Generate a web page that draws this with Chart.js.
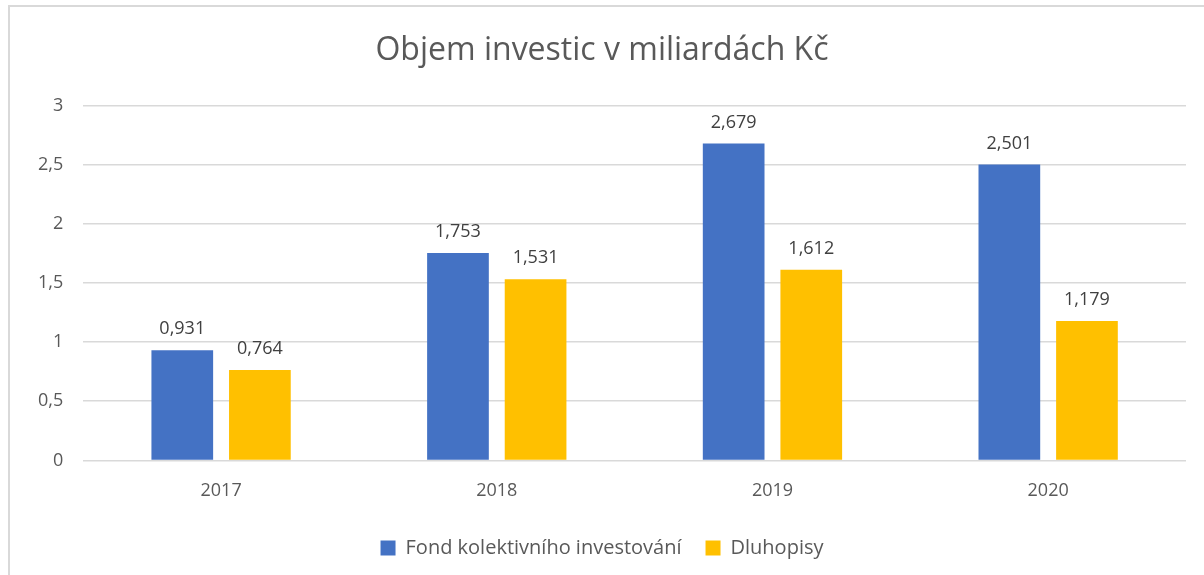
<!DOCTYPE html>
<html>
<head>
<meta charset="utf-8">
<script src="https://cdn.jsdelivr.net/npm/chart.js@4"></script>
<style>
  html, body { margin: 0; padding: 0; background: #fff; }
  #frame { position: absolute; left: 8px; top: 5px; width: 1204px; height: 580px; border: 2px solid #d9d9d9; box-sizing: border-box; }
  #wrap { position: absolute; left: 0; top: 0; width: 1204px; height: 575px; }
</style>
</head>
<body>
<div id="frame"></div>
<div id="wrap"><canvas id="chart" width="1204" height="575"></canvas></div>
<script>
const years = ['2017', '2018', '2019', '2020'];
const fondValues = [0.931, 1.753, 2.679, 2.501];
const dluhopisyValues = [0.764, 1.531, 1.612, 1.179];
const yTicks = [0, 0.5, 1, 1.5, 2, 2.5, 3];

const FONT = "'Open Sans', 'Noto Sans', sans-serif";

function czNum(v) {
    return String(v).replace('.', ',');
}

// labels above each bar
const valueLabels = {
    id: 'valueLabels',
    afterDatasetsDraw(chart) {
        const ctx = chart.ctx;
        ctx.save();
        ctx.font = '18px ' + FONT;
        ctx.fillStyle = '#404040';
        ctx.textAlign = 'center';
        ctx.textBaseline = 'bottom';
        chart.data.datasets.forEach((ds, i) => {
            chart.getDatasetMeta(i).data.forEach((bar, j) => {
                ctx.fillText(czNum(ds.data[j]), bar.x, bar.y - 12);
            });
        });
        ctx.restore();
    }
};

new Chart(document.getElementById('chart'), {
    type: 'bar',
    data: {
        labels: years,
        datasets: [
            {
                label: 'Fond kolektivního investování',
                data: fondValues,
                backgroundColor: '#4472c4',
                categoryPercentage: 0.563,
                barPercentage: 0.795
            },
            {
                label: 'Dluhopisy',
                data: dluhopisyValues,
                backgroundColor: '#ffc000',
                categoryPercentage: 0.563,
                barPercentage: 0.795
            }
        ]
    },
    options: {
        responsive: false,
        animation: false,
        layout: { padding: { left: 18, right: 18, top: 32, bottom: 7 } },
        plugins: {
            title: {
                display: true,
                text: 'Objem investic v miliardách Kč',
                color: '#595959',
                font: { family: FONT, size: 32, weight: 'normal' },
                padding: { top: 0, bottom: 35 }
            },
            legend: {
                position: 'bottom',
                labels: {
                    color: '#595959',
                    font: { family: FONT, size: 20 },
                    boxWidth: 15,
                    boxHeight: 15,
                    padding: 24
                }
            },
            tooltip: { enabled: false }
        },
        scales: {
            x: {
                grid: { display: false },
                border: { display: false },
                ticks: { color: '#595959', font: { family: FONT, size: 18 }, padding: 12 }
            },
            y: {
                min: 0,
                max: 3,
                afterBuildTicks: (axis) => { axis.ticks = yTicks.map(v => ({ value: v })); },
                grid: { color: '#d9d9d9', lineWidth: 1.5, drawTicks: false },
                border: { display: false },
                ticks: {
                    color: '#595959',
                    font: { family: FONT, size: 18 },
                    padding: 20,
                    callback: (v) => czNum(v)
                }
            }
        }
    },
    plugins: [valueLabels]
});
</script>
</body>
</html>
